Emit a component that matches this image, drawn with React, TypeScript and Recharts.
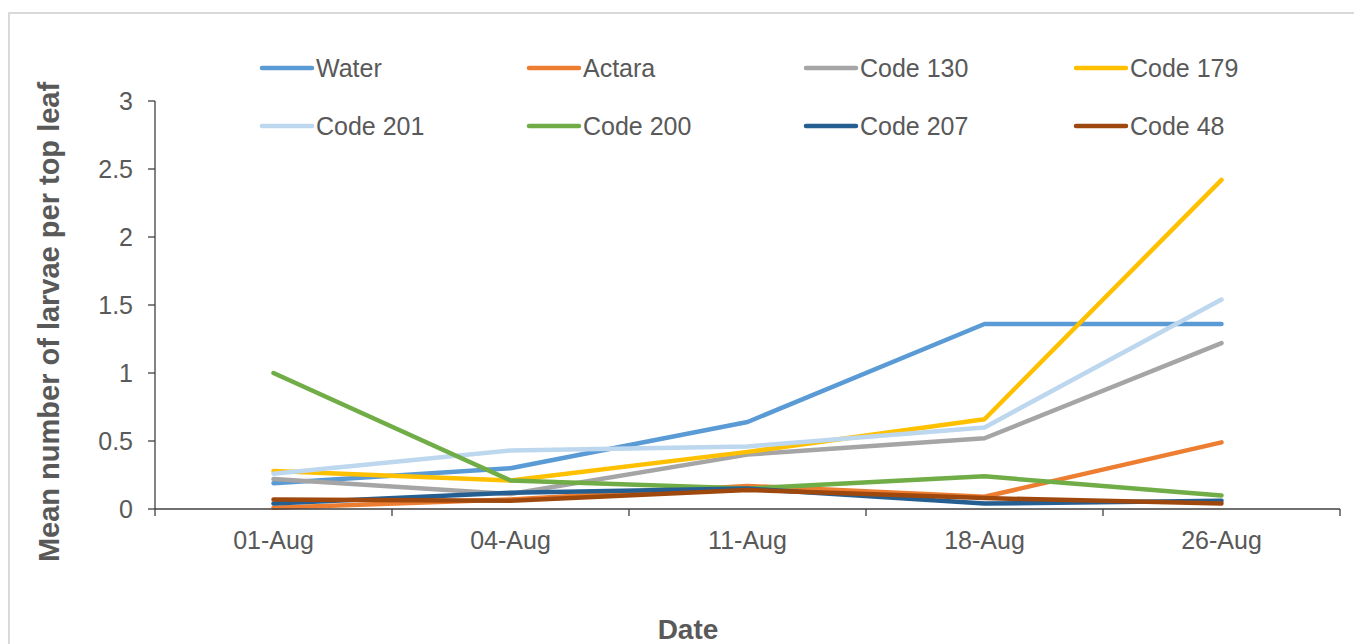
import React from "react"
import { LineChart, Line, XAxis, YAxis, Legend } from "recharts"

const dates = ["01-Aug", "04-Aug", "11-Aug", "18-Aug", "26-Aug"]
const water = [0.19, 0.3, 0.64, 1.36, 1.36]
const actara = [0.01, 0.07, 0.17, 0.09, 0.49]
const code130 = [0.22, 0.11, 0.4, 0.52, 1.22]
const code179 = [0.28, 0.21, 0.42, 0.66, 2.42]
const code201 = [0.26, 0.43, 0.46, 0.6, 1.54]
const code200 = [1.0, 0.21, 0.15, 0.24, 0.1]
const code207 = [0.04, 0.12, 0.15, 0.04, 0.06]
const code48 = [0.07, 0.06, 0.14, 0.08, 0.04]
const yTicks = [0, 0.5, 1, 1.5, 2, 2.5, 3]

const series = [
  { key: "water", name: "Water", values: water, color: "#5B9BD5" },
  { key: "actara", name: "Actara", values: actara, color: "#ED7D31" },
  { key: "code130", name: "Code 130", values: code130, color: "#A5A5A5" },
  { key: "code179", name: "Code 179", values: code179, color: "#FFC000" },
  { key: "code201", name: "Code 201", values: code201, color: "#BDD7EE" },
  { key: "code200", name: "Code 200", values: code200, color: "#70AD47" },
  { key: "code207", name: "Code 207", values: code207, color: "#255E91" },
  { key: "code48", name: "Code 48", values: code48, color: "#9E480E" },
]

const data = dates.map((d, i) => {
  const row: any = { idx: i, date: d }
  series.forEach((s) => (row[s.key] = s.values[i]))
  return row
})

// ticks at category centres (labels) and at the boundaries (tick marks)
const xTicks = [-0.5, 0, 0.5, 1, 1.5, 2, 2.5, 3, 3.5, 4, 4.5]

const FONT = "'Liberation Sans', Arial, sans-serif"
const TEXT = "#595959"
const AXIS = "#404040"

const XTick = ({ x, y, payload }: any) => {
  const v = payload.value
  if (Number.isInteger(v)) {
    return (
      <text x={x} y={y + 40} textAnchor="middle" fontSize={25} fill={TEXT} fontFamily={FONT}>
        {dates[v]}
      </text>
    )
  }
  return <line x1={x} y1={y} x2={x} y2={y + 7} stroke={AXIS} strokeWidth={1.3} />
}

const colWidths = [267, 277, 270, 260]

// legend keeps the series order (Excel style), not alphabetical
const renderLegend = () => (
  <div style={{ display: "grid", gridTemplateColumns: colWidths.map((w) => w + "px").join(" "), fontFamily: FONT }}>
    {series.map((s) => (
      <div key={s.key} style={{ display: "flex", alignItems: "center", height: 58 }}>
        <svg width={56} height={8} style={{ display: "block" }}>
          <line x1={3} y1={4} x2={53} y2={4} stroke={s.color} strokeWidth={4.5} strokeLinecap="round" />
        </svg>
        <span style={{ fontSize: 25, color: TEXT, marginLeft: 1 }}>{s.name}</span>
      </div>
    ))}
  </div>
)

export default function App() {
  return (
    <div style={{ position: "absolute", left: 0, top: 0, width: 1354, height: 644, background: "#fff", overflow: "hidden" }}>
      <div
        style={{
          position: "absolute",
          left: 8,
          top: 12,
          width: 1360,
          height: 660,
          border: "2px solid #d9d9d9",
          boxSizing: "border-box",
        }}
      />
      <div style={{ position: "absolute", left: 0, top: 0 }}>
        <LineChart width={1354} height={644} data={data} margin={{ top: 101, right: 14, bottom: 105, left: 95 }}>
          <XAxis
            dataKey="idx"
            type="number"
            domain={[-0.5, 4.5]}
            ticks={xTicks}
            interval={0}
            tick={<XTick />}
            tickLine={false}
            tickSize={0}
            tickMargin={0}
            height={30}
            axisLine={{ stroke: AXIS, strokeWidth: 1.3 }}
          />
          <YAxis
            width={60}
            domain={[0, 3]}
            ticks={yTicks}
            interval={0}
            tickSize={7}
            tickMargin={15}
            tick={{ fontSize: 25, fill: TEXT, fontFamily: FONT }}
            tickLine={{ stroke: AXIS, strokeWidth: 1.3 }}
            axisLine={{ stroke: AXIS, strokeWidth: 1.3 }}
          />
          <Legend
            layout="vertical"
            align="center"
            verticalAlign="middle"
            content={renderLegend}
            wrapperStyle={{ top: 39, left: 259, width: 1080 }}
          />
          {series.map((s) => (
            <Line
              key={s.key}
              dataKey={s.key}
              name={s.name}
              stroke={s.color}
              strokeWidth={4.5}
              dot={false}
              strokeLinejoin="round"
              strokeLinecap="round"
              isAnimationActive={false}
            />
          ))}
        </LineChart>
      </div>
      <div
        style={{
          position: "absolute",
          left: 49,
          top: 322,
          transform: "translate(-50%, -50%) rotate(-90deg)",
          whiteSpace: "nowrap",
          fontFamily: FONT,
          fontWeight: "bold",
          fontSize: 29,
          color: TEXT,
        }}
      >
        Mean number of larvae per top leaf
      </div>
      <div
        style={{
          position: "absolute",
          left: 688,
          top: 630,
          transform: "translate(-50%, -50%)",
          whiteSpace: "nowrap",
          fontFamily: FONT,
          fontWeight: "bold",
          fontSize: 28,
          color: TEXT,
        }}
      >
        Date
      </div>
    </div>
  )
}
